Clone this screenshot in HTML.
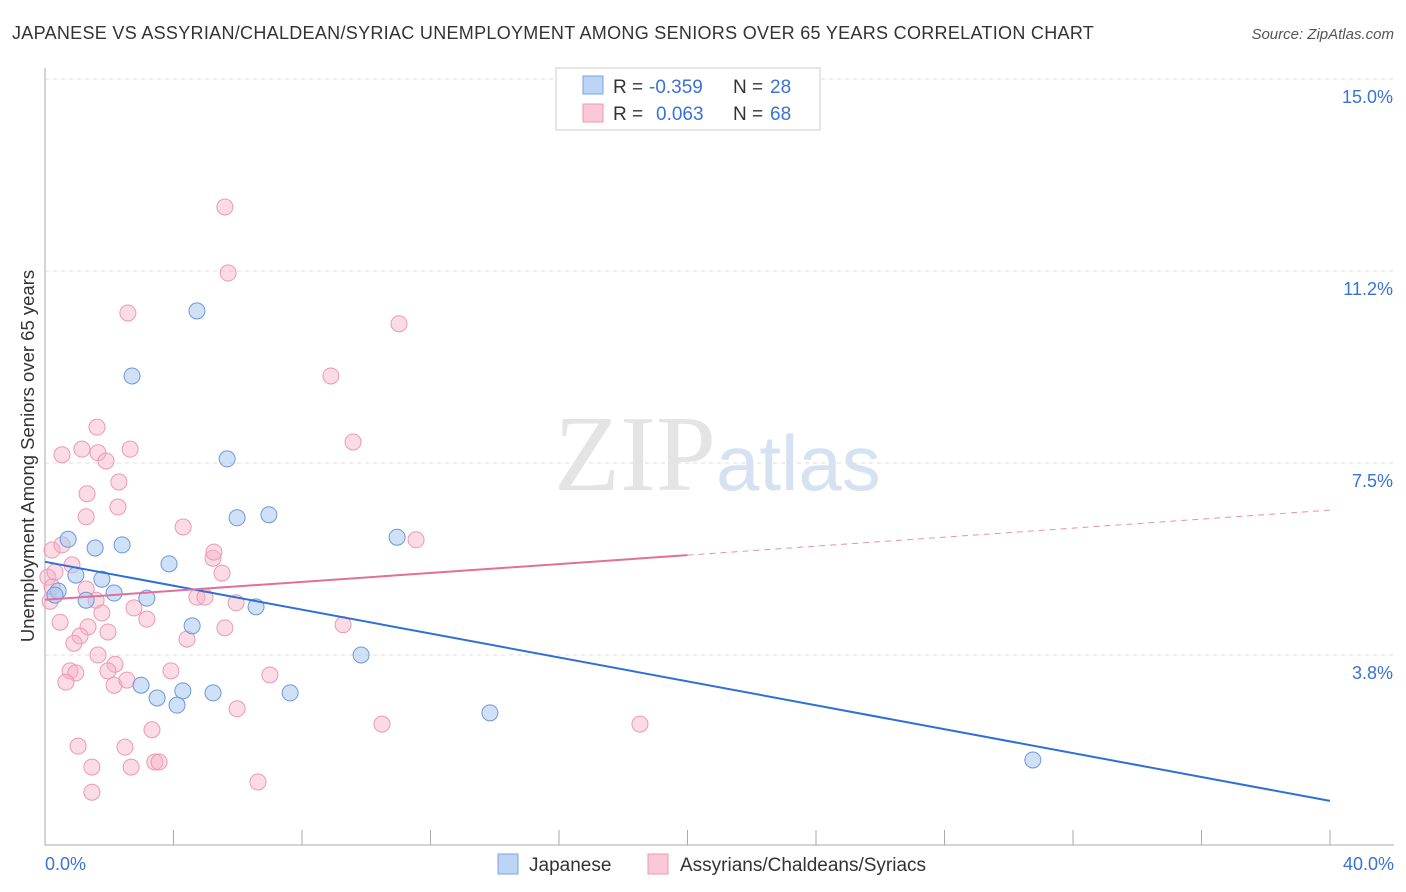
<!DOCTYPE html>
<html><head><meta charset="utf-8"><style>
body{margin:0;background:#fff;font-family:"Liberation Sans",sans-serif;}
svg{display:block}
</style></head><body>
<svg id="chart" width="1406" height="892" xmlns="http://www.w3.org/2000/svg">
<text x="12" y="39" font-size="18" fill="#333" letter-spacing="0.3">JAPANESE VS ASSYRIAN/CHALDEAN/SYRIAC UNEMPLOYMENT AMONG SENIORS OVER 65 YEARS CORRELATION CHART</text>
<text x="1394" y="39" font-size="15" fill="#555" font-style="italic" text-anchor="end">Source: ZipAtlas.com</text>
<g id="grid"></g>
<text x="716" y="490" font-size="108" fill="#e4e4e4" text-anchor="end" font-family="Liberation Serif,serif">ZIP</text>
<text x="716" y="490" font-size="78" fill="#d6e2f2">atlas</text>
<g id="pts"></g>
<g id="lines"></g>
<text transform="translate(34,456) rotate(-90)" font-size="18.5" fill="#333" text-anchor="middle">Unemployment Among Seniors over 65 years</text>
<g>
<rect x="556" y="68" width="264" height="62" fill="#fff" stroke="#ccc"/>
<rect x="583" y="76" width="20" height="18" fill="#bcd4f5" stroke="#7aa3e0"/>
<rect x="583" y="104" width="20" height="18" fill="#fac8d6" stroke="#ec98b2"/>
<text x="613" y="93" font-size="19" fill="#333">R =</text>
<text x="649" y="93" font-size="19" fill="#3a72d6">-0.359</text>
<text x="733" y="93" font-size="19" fill="#333">N =</text>
<text x="770" y="93" font-size="19" fill="#3a72d6">28</text>
<text x="613" y="120" font-size="19" fill="#333">R =</text>
<text x="656" y="120" font-size="19" fill="#3a72d6">0.063</text>
<text x="733" y="120" font-size="19" fill="#333">N =</text>
<text x="770" y="120" font-size="19" fill="#3a72d6">68</text>
</g>
<g>
<rect x="498" y="854" width="20" height="20" fill="#bcd4f5" stroke="#7aa3e0"/>
<text x="529" y="871" font-size="19" fill="#333">Japanese</text>
<rect x="648" y="854" width="20" height="20" fill="#fac8d6" stroke="#ec98b2"/>
<text x="680" y="871" font-size="19" fill="#333">Assyrians/Chaldeans/Syriacs</text>
</g>
<text x="45" y="870" font-size="18" fill="#3a72d6">0.0%</text>
<text x="1394" y="870" font-size="18" fill="#3a72d6" text-anchor="end">40.0%</text>
</svg>
<script>
const yTicks=[15.0,11.2,7.5,3.8];
const jpX=[0.72,1.56,2.4,0.41,0.96,1.77,1.28,2.15,3.17,3.86,2.71,4.73,5.67,5.98,6.97,6.57,4.58,2.99,3.49,4.29,4.11,5.23,7.63,9.84,10.96,13.85,30.75,0.31];
const jpY=[6.01,5.84,5.9,5.0,5.31,5.23,4.82,4.96,4.86,5.53,9.2,10.47,7.58,6.43,6.49,4.69,4.32,3.16,2.91,3.05,2.77,3.01,3.01,3.75,6.05,2.62,1.7,4.92];
const asX=[0.22,0.53,0.09,0.31,0.22,0.47,0.84,1.28,1.59,1.77,1.34,1.09,0.9,1.65,2.18,1.96,2.15,2.55,0.78,0.96,0.65,1.03,1.46,1.46,2.49,2.68,3.42,3.55,3.33,3.92,4.42,4.73,4.98,5.6,5.95,5.98,6.63,7.0,5.23,5.26,5.51,4.3,2.77,3.17,2.27,2.3,1.31,0.53,1.28,1.15,1.65,1.9,1.62,2.65,2.58,5.6,5.7,8.9,9.59,11.02,11.55,9.28,10.49,18.52,1.96,0.16];
const asY=[5.8,5.9,5.27,5.37,5.08,4.39,5.51,5.04,4.82,4.57,4.3,4.12,3.98,3.75,3.57,3.44,3.16,3.26,3.44,3.4,3.22,1.97,1.56,1.07,1.95,1.56,1.66,1.66,2.29,3.44,4.06,4.88,4.88,4.28,4.77,2.7,1.27,3.36,5.64,5.76,5.35,6.25,4.67,4.45,6.64,7.13,6.9,7.66,6.45,7.77,7.7,7.54,8.2,7.77,10.43,12.5,11.21,9.2,7.91,10.22,6.0,4.34,2.4,2.4,4.2,4.8];
const jpTrend=[5.57,0.9];
const asTrend=[4.83,5.7,6.58];
const X=v=>45+v*32.125, Y=v=>847-v*51.2;
const NS="http://www.w3.org/2000/svg";
function mk(tag,attrs,parent){const e=document.createElementNS(NS,tag);for(const k in attrs)e.setAttribute(k,attrs[k]);parent.appendChild(e);return e;}
const grid=document.getElementById('grid');
const ax=mk('line',{x1:45,y1:68,x2:45,y2:845,stroke:'#aaa'},grid);


const bx=mk('line',{x1:45,y1:845,x2:1394,y2:845,stroke:'#aaa'},grid);


for(let i=1;i<=10;i++){const t=mk('line',{x1:45+i*128.5,y1:830,x2:45+i*128.5,y2:845,stroke:'#aaa'},grid);

}
yTicks.forEach(v=>{const yy=v==15?79:v==11.2?271:v==7.5?463:655;
const l=mk('line',{x1:45,y1:yy,x2:1394,y2:yy,stroke:'#ddd','stroke-dasharray':'4,4'},grid);


const t=mk('text',{x:1393,y:yy+24,'font-size':18,fill:'#3a72d6','text-anchor':'end'},grid);t.textContent=v.toFixed(1)+'%';

});
const pts=document.getElementById('pts');
asX.forEach((x,i)=>{const c=mk('circle',{cx:X(x),cy:Y(asY[i]),r:8,fill:'rgba(246,178,200,0.45)',stroke:'#ec98b2','stroke-width':1},pts);

});
jpX.forEach((x,i)=>{const c=mk('circle',{cx:X(x),cy:Y(jpY[i]),r:8,fill:'rgba(170,200,240,0.55)',stroke:'#6b98da','stroke-width':1},pts);

});
const lines=document.getElementById('lines');
const l1=mk('line',{x1:X(0),y1:Y(jpTrend[0]),x2:X(40),y2:Y(jpTrend[1]),stroke:'#2f6fd6','stroke-width':2},lines);


const l2=mk('line',{x1:X(0),y1:Y(asTrend[0]),x2:X(20),y2:Y(asTrend[1]),stroke:'#e0709a','stroke-width':2},lines);


const l3=mk('line',{x1:X(20),y1:Y(asTrend[1]),x2:X(40),y2:Y(asTrend[2]),stroke:'#e890ae','stroke-width':1,'stroke-dasharray':'6,5'},lines);


</script>
</body></html>
